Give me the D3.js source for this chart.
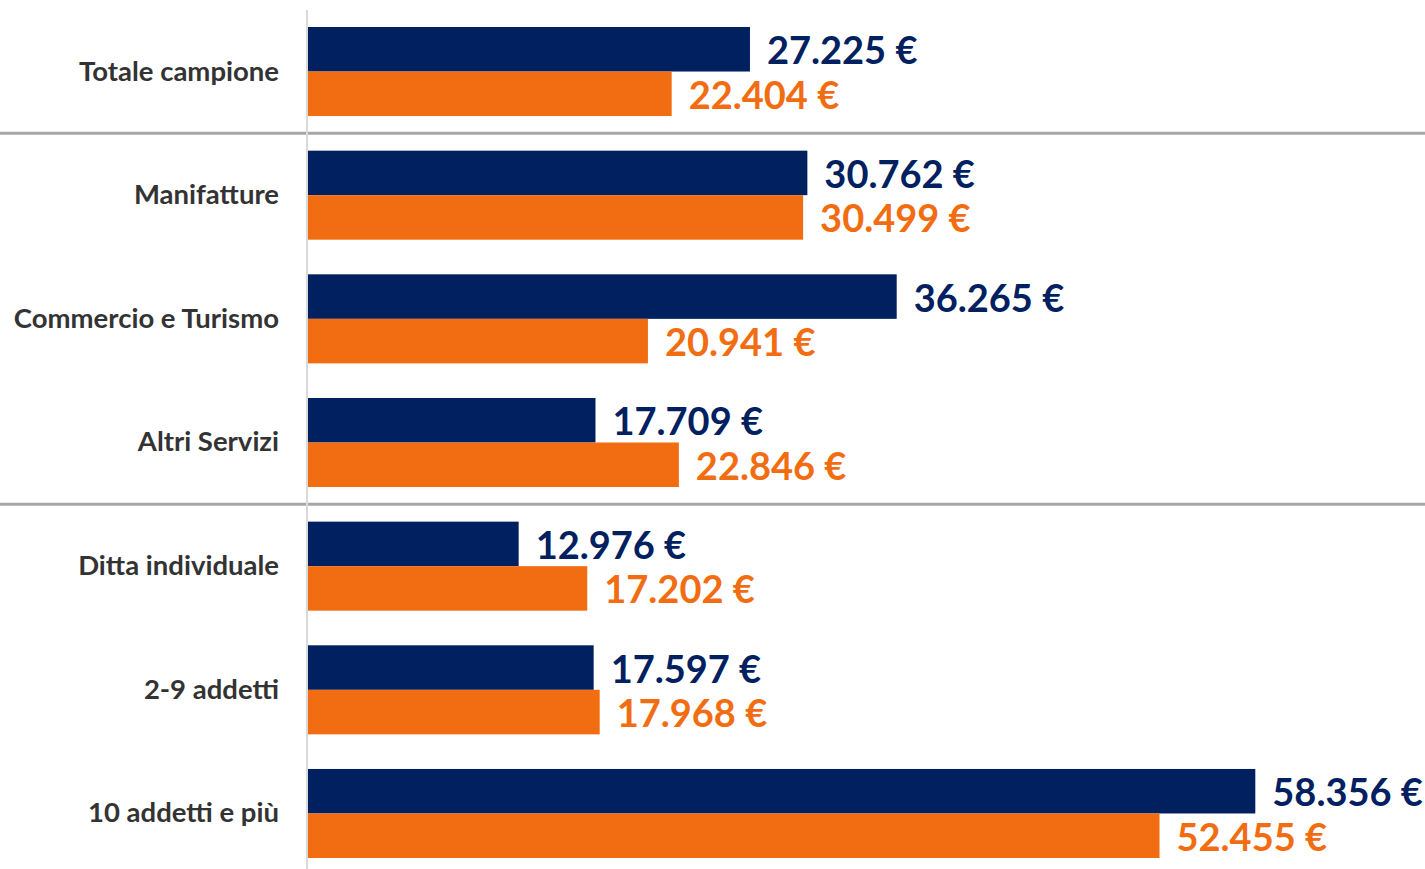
<!DOCTYPE html>
<html>
<head>
<meta charset="utf-8">
<script src="https://cdn.jsdelivr.net/npm/d3@7"></script>
<style>
  body { margin: 0; background: #fff; }
  svg { display: block; }
</style>
</head>
<body>
<div id="chart"></div>
<script>
var categories = ["Totale campione", "Manifatture", "Commercio e Turismo", "Altri Servizi",
                  "Ditta individuale", "2-9 addetti", "10 addetti e più"];
var seriesNames = ["serie1", "serie2"];
var navyValues = [27225, 30762, 36265, 17709, 12976, 17597, 58356];
var orangeValues = [22404, 30499, 20941, 22846, 17202, 17968, 52455];
var groupBreaks = ["Totale campione", "Altri Servizi"]; // separator after these

var width = 1425, height = 869;
var colors = { serie1: "#00205f", serie2: "#f26d12" };

var svg = d3.select("#chart").append("svg")
    .attr("width", width)
    .attr("height", height);

var x = d3.scaleLinear().domain([0, 60000]).range([308, 1282]);
var y = d3.scaleBand().domain(categories).range([27, 858]).paddingInner(0.28).paddingOuter(0);
var ys = d3.scaleBand().domain(seriesNames).range([0, y.bandwidth()]);

var rows = categories.map(function(c, i) {
    return { cat: c, serie1: navyValues[i], serie2: orangeValues[i] };
});

// separators between groups
groupBreaks.forEach(function(c) {
    var yy = y(c) + y.bandwidth() + y.step() * y.paddingInner() / 2;
    svg.append("line")
        .attr("x1", 0).attr("x2", width)
        .attr("y1", yy).attr("y2", yy)
        .attr("stroke", "#a6a6a6")
        .attr("stroke-width", 3);
});

// vertical axis line
svg.append("line")
    .attr("x1", x(0) - 1).attr("x2", x(0) - 1)
    .attr("y1", 10).attr("y2", height)
    .attr("stroke", "#d9d9d9")
    .attr("stroke-width", 2);

var groups = svg.selectAll("g.row").data(rows).enter().append("g")
    .attr("class", "row")
    .attr("transform", function(d) { return "translate(0," + y(d.cat) + ")"; });

seriesNames.forEach(function(s) {
    groups.append("rect")
        .attr("x", x(0))
        .attr("y", ys(s))
        .attr("width", function(d) { return x(d[s]) - x(0); })
        .attr("height", ys.bandwidth())
        .attr("fill", colors[s]);

    groups.append("text")
        .attr("x", function(d) { return x(d[s]) + 17; })
        .attr("y", ys(s) + ys.bandwidth() / 2 + 15)
        .attr("font-family", "Lato, sans-serif")
        .attr("font-weight", "bold")
        .attr("font-size", "38px")
        .attr("fill", colors[s])
        .text(function(d) { return d3.format(",")(d[s]).replace(/,/g, ".") + " €"; });
});

// category labels
groups.append("text")
    .attr("x", 279)
    .attr("y", y.bandwidth() / 2 + 9)
    .attr("text-anchor", "end")
    .attr("font-family", "Lato, sans-serif")
    .attr("font-weight", "bold")
    .attr("font-size", "27.5px")
    .attr("fill", "#333333")
    .text(function(d) { return d.cat; });
</script>
</body>
</html>
